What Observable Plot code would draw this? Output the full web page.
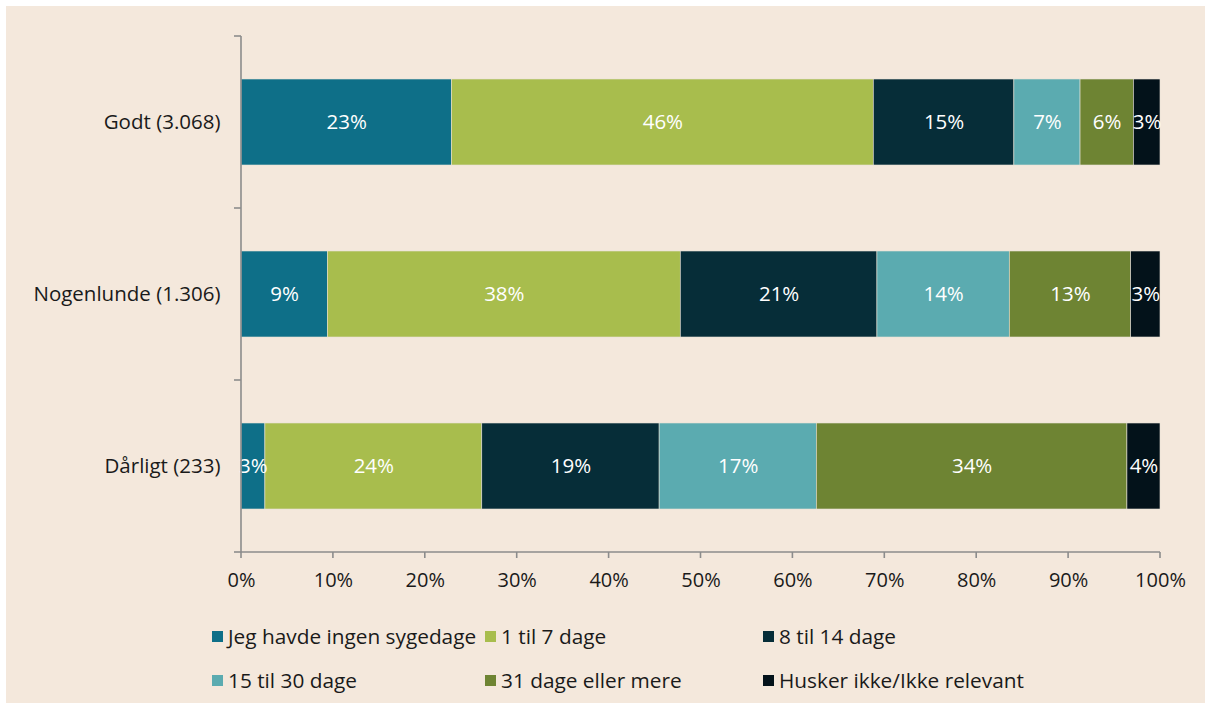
<!DOCTYPE html>
<html><head><meta charset="utf-8">
<script src="https://cdn.jsdelivr.net/npm/d3@7"></script>
<script src="https://cdn.jsdelivr.net/npm/@observablehq/plot@0.6"></script>
<style>
body{margin:0;background:#fff;font-family:"Segoe UI","Open Sans",sans-serif;}
#panel{position:absolute;left:6px;top:6px;width:1199px;height:697px;background:#F4E8DC;overflow:hidden;}
#chart{position:absolute;left:0;top:0;}
.item{position:absolute;display:flex;align-items:center;font-size:20.8px;color:#1a1a1a;white-space:nowrap;}
.sw{width:11px;height:11px;margin-right:5px;flex:none;}
</style></head><body>
<div id="panel"><div id="chart"></div><div id="legend"></div></div>
<script>
const categories = ["Godt (3.068)", "Nogenlunde (1.306)", "Dårligt (233)"];
const series = ["Jeg havde ingen sygedage", "1 til 7 dage", "8 til 14 dage", "15 til 30 dage", "31 dage eller mere", "Husker ikke/Ikke relevant"];
const colors = ["#0E6F88", "#A8BD4D", "#062D38", "#5BABB0", "#6E8433", "#03121A"];
const godt = [22.9, 45.9, 15.3, 7.2, 5.8, 2.9];
const nogenlunde = [9.4, 38.4, 21.4, 14.4, 13.2, 3.2];
const daarligt = [2.6, 23.6, 19.3, 17.1, 33.8, 3.6];
const xTicks = [0, 10, 20, 30, 40, 50, 60, 70, 80, 90, 100];

const rows = [godt, nogenlunde, daarligt];
const data = [];
categories.forEach((c, i) => rows[i].forEach((v, j) => data.push({cat: c, series: series[j], value: v})));

const axisGrey = "#8C8C8C";
function axisLines(index, scales, values, dims) {
  const g = d3.create("svg:g").attr("fill", "none").attr("stroke", axisGrey).attr("stroke-width", 1.6);
  const y = scales.y;
  const step = y.step ? y.step() : (y(categories[1]) - y(categories[0]));
  const bw = y.bandwidth ? y.bandwidth() : step / 2;
  const bounds = categories.map(c => y(c) - (step - bw) / 2);
  bounds.push(bounds[bounds.length - 1] + step);
  const x0 = scales.x(0), x1 = scales.x(100);
  const top = bounds[0], bottom = bounds[bounds.length - 1];
  g.append("path").attr("d", `M${x0},${top}V${bottom}H${x1}`);
  bounds.forEach(b => g.append("path").attr("d", `M${x0 - 7},${b}H${x0}`));
  xTicks.forEach(t => g.append("path").attr("d", `M${scales.x(t)},${bottom}V${bottom + 6}`));
  return g.node();
}

const chart = Plot.plot({
  width: 1199,
  height: 600,
  marginLeft: 235,
  marginRight: 45,
  marginTop: 29,
  marginBottom: 54,
  style: {fontFamily: '"Segoe UI","Open Sans",sans-serif', fontSize: "20px", background: "transparent", color: "#1a1a1a"},
  x: {domain: [0, 100], axis: null},
  y: {domain: categories, paddingInner: 0.5, paddingOuter: 0.25, axis: null},
  color: {domain: series, range: colors},
  marks: [
    Plot.barX(data, Plot.stackX({x: "value", y: "cat", fill: "series", z: "series", stroke: "#E8E2D6", strokeWidth: 0.6})),
    Plot.text(data, Plot.stackX({x: "value", y: "cat", z: "series", text: d => Math.round(d.value) + "%", fill: "white", fontSize: 20.5})),
    axisLines,
    Plot.axisY({tickSize: 0, tickPadding: 21, fontSize: 20.5, label: null}),
    Plot.axisX({ticks: xTicks, tickSize: 0, tickPadding: 20, tickFormat: d => d + "%", fontSize: 20, label: null})
  ]
});
document.getElementById("chart").appendChild(chart);

const legend = document.getElementById("legend");
const colX = [206, 479, 757];
const rowY = [630, 674];
series.forEach((s, i) => {
  const el = document.createElement("div");
  el.className = "item";
  el.style.left = colX[i % 3] + "px";
  el.style.top = (rowY[Math.floor(i / 3)] - 14) + "px";
  el.style.height = "28px";
  el.innerHTML = `<span class="sw" style="background:${colors[i]}"></span><span>${s}</span>`;
  legend.appendChild(el);
});
</script>
</body></html>
